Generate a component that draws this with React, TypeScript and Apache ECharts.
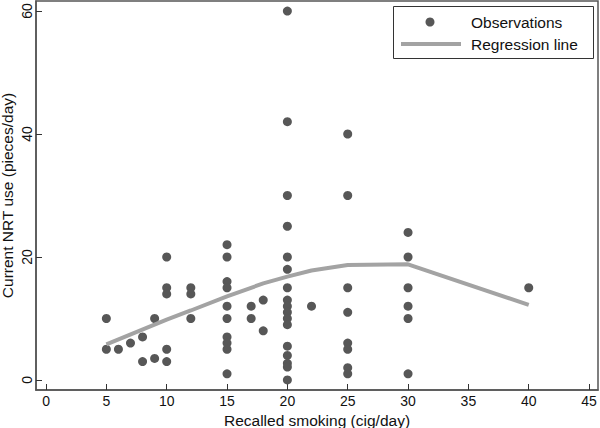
import React, { useEffect, useRef } from "react";
import * as echarts from "echarts";

// Observations: [recalled cig/day, current NRT pieces/day]
const obsX5 = [10, 5];
const obsX6 = [5];
const obsX7 = [6];
const obsX8 = [7, 3];
const obsX9 = [10, 3.5];
const obsX10 = [20, 15, 14, 5, 3];
const obsX12 = [15, 14, 10];
const obsX15 = [22, 20, 16, 15, 12, 10, 7, 6, 5, 1];
const obsX17 = [12, 10];
const obsX18 = [13, 8];
const obsX20 = [60, 42, 30, 25, 20, 18, 15, 13, 12, 11, 10, 9, 5.5, 4, 2.7, 2.1, 0];
const obsX22 = [12];
const obsX25 = [40, 30, 15, 11, 6, 5, 2, 1];
const obsX30 = [24, 20, 15, 12, 10, 1];
const obsX40 = [15];

const obsGroups: [number, number[]][] = [
  [5, obsX5], [6, obsX6], [7, obsX7], [8, obsX8], [9, obsX9], [10, obsX10],
  [12, obsX12], [15, obsX15], [17, obsX17], [18, obsX18], [20, obsX20],
  [22, obsX22], [25, obsX25], [30, obsX30], [40, obsX40],
];

// Regression line
const regX = [5, 10, 12, 15, 18, 20, 22, 25, 30, 40];
const regY = [5.8, 9.8, 11.3, 13.6, 15.7, 16.8, 17.8, 18.7, 18.8, 12.2];

const xTicks = [0, 5, 10, 15, 20, 25, 30, 35, 40, 45];
const yTicks = [0, 20, 40, 60];

const FONT = "'Liberation Sans', Arial, Helvetica, sans-serif";

export default function App() {
  const ref = useRef<HTMLDivElement>(null);
  useEffect(() => {
    document.body.style.margin = "0";
    if (!ref.current) return;
    const chart = echarts.init(ref.current, undefined, { renderer: "svg" });
    const scatterData: number[][] = [];
    obsGroups.forEach(([x, ys]) => ys.forEach((y) => scatterData.push([x, y])));
    const lineData = regX.map((x, i) => [x, regY[i]]);
    chart.setOption({
      animation: false,
      backgroundColor: "#ffffff",
      textStyle: { fontFamily: FONT },
      grid: {
        left: 36,
        right: 2,
        top: 1,
        bottom: 38,
        show: true,
        borderColor: "#555",
        borderWidth: 1.5,
        containLabel: false,
        outerBoundsMode: "none",
      },
      xAxis: {
        type: "value",
        min: -0.83,
        max: 45.74,
        name: "Recalled smoking (cig/day)",
        nameLocation: "middle",
        nameGap: 21,
        nameTextStyle: { fontSize: 15.5, color: "#111", fontFamily: FONT },
        axisLine: { show: true, onZero: false, lineStyle: { color: "#555", width: 1.5 } },
        axisTick: { show: true, inside: true, length: 6, lineStyle: { color: "#333" }, customValues: xTicks },
        axisLabel: { fontSize: 14, color: "#111", margin: 4, fontFamily: FONT, customValues: xTicks },
        splitLine: { show: false },
      },
      yAxis: {
        type: "value",
        min: -1.63,
        max: 61.63,
        name: "Current NRT use (pieces/day)",
        nameLocation: "middle",
        nameRotate: 90,
        nameGap: 21,
        nameMoveOverlap: false,
        nameTextStyle: { fontSize: 15.5, color: "#111", fontFamily: FONT },
        axisLine: { show: true, onZero: false, lineStyle: { color: "#555", width: 1.5 } },
        axisTick: { show: true, inside: true, length: 6, lineStyle: { color: "#333" }, customValues: yTicks },
        axisLabel: { fontSize: 14, color: "#111", margin: 2, rotate: 90, fontFamily: FONT, customValues: yTicks },
        splitLine: { show: false },
      },
      series: [
        {
          name: "Regression line",
          type: "line",
          data: lineData,
          showSymbol: false,
          symbol: "none",
          lineStyle: { color: "#a3a3a3", width: 4 },
          z: 3,
        },
        {
          name: "Observations",
          type: "scatter",
          data: scatterData,
          symbol: "circle",
          symbolSize: 9,
          itemStyle: { color: "#575757", opacity: 1 },
          z: 2,
        },
      ],
      graphic: [
        {
          type: "rect",
          shape: { x: 393.5, y: 6.5, width: 200, height: 52 },
          style: { fill: "#fff", stroke: "#333", lineWidth: 1 },
          z: 10,
        },
        {
          type: "circle",
          shape: { cx: 430, cy: 22, r: 4.5 },
          style: { fill: "#575757" },
          z: 11,
        },
        {
          type: "line",
          shape: { x1: 401, y1: 44, x2: 461, y2: 44 },
          style: { stroke: "#a3a3a3", lineWidth: 4 },
          z: 11,
        },
        {
          type: "text",
          x: 471,
          y: 22,
          style: { text: "Observations", fontSize: 15.5, fontFamily: FONT, fill: "#111", verticalAlign: "middle", align: "left" },
          z: 11,
        },
        {
          type: "text",
          x: 471,
          y: 44,
          style: { text: "Regression line", fontSize: 15.5, fontFamily: FONT, fill: "#111", verticalAlign: "middle", align: "left" },
          z: 11,
        },
      ],
    });
    return () => chart.dispose();
  }, []);
  return <div ref={ref} style={{ width: 600, height: 428 }} />;
}
